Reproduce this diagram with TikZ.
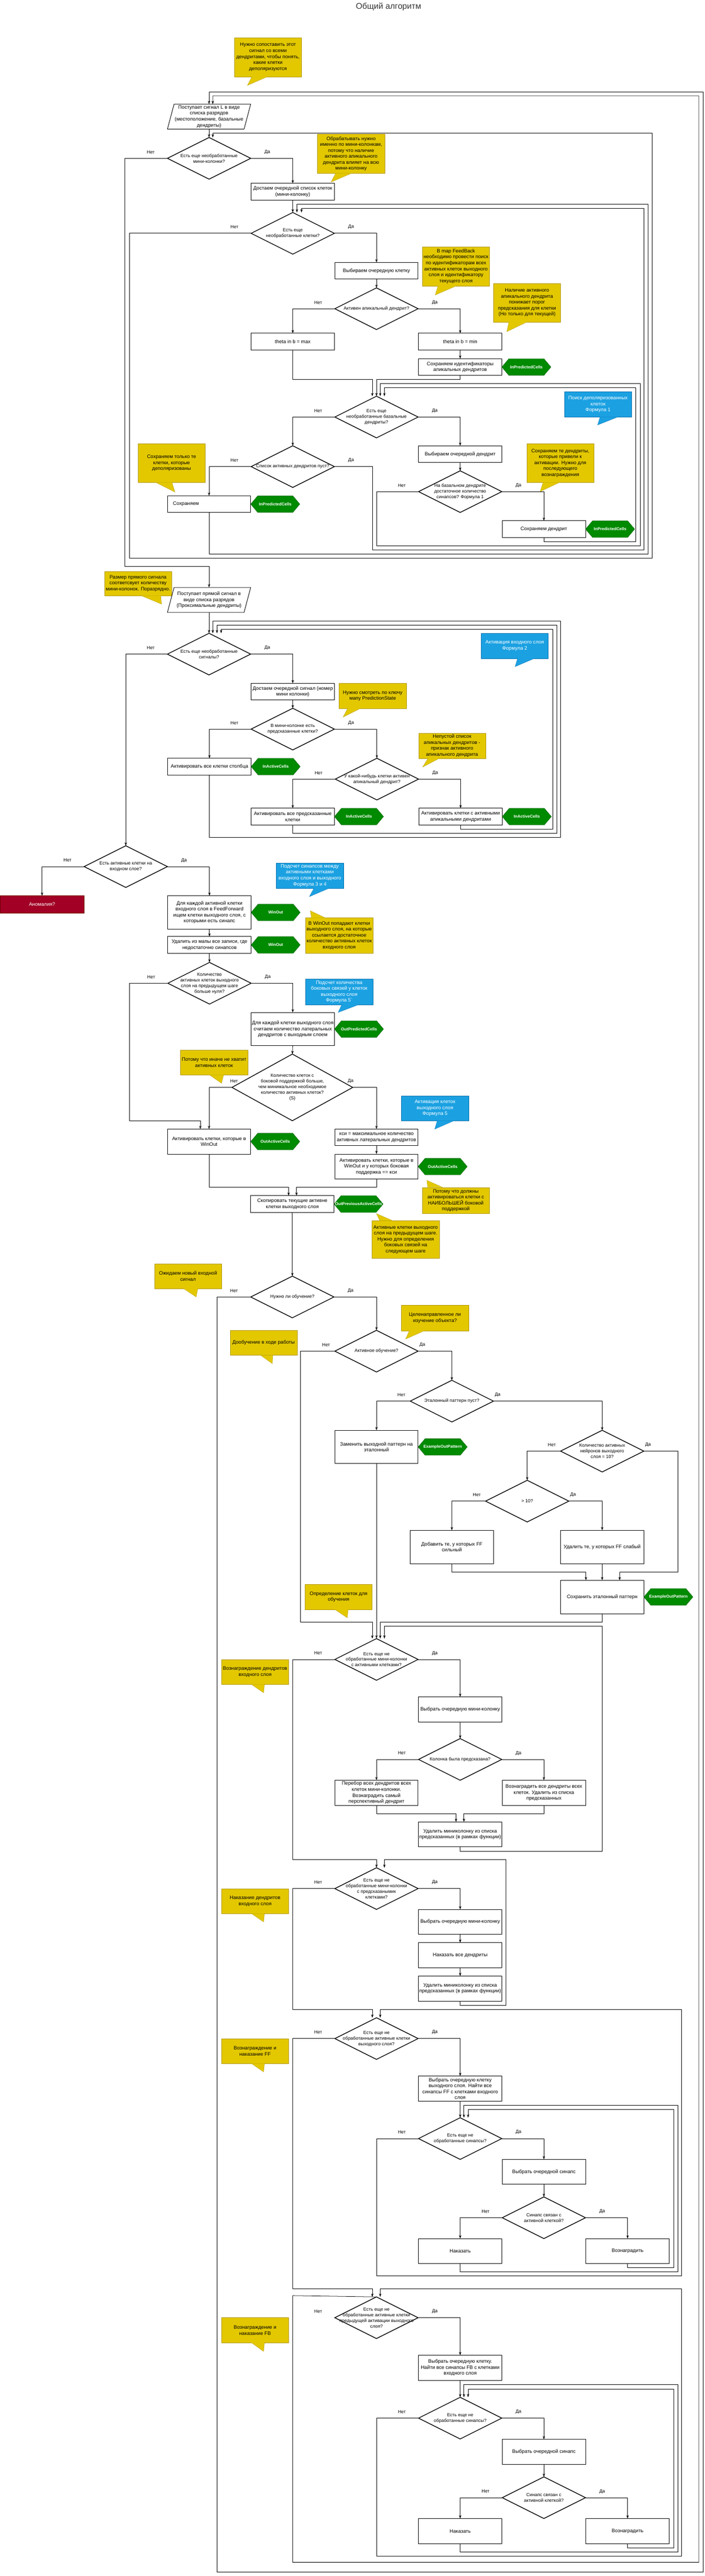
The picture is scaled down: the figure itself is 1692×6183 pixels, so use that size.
\documentclass[tikz,border=0pt]{standalone}
\usepackage{fontspec}
\setmainfont{Liberation Sans}
\usetikzlibrary{shapes.geometric, shapes.symbols, positioning, calc, arrows.meta}
\definecolor{ylwfill}{HTML}{E3C800}
\definecolor{ylwline}{HTML}{B09500}
\definecolor{grnfill}{HTML}{008A00}
\definecolor{grnline}{HTML}{005700}
\definecolor{blufill}{HTML}{1BA1E2}
\definecolor{bluline}{HTML}{006EAF}
\definecolor{redfill}{HTML}{A20025}
\definecolor{redline}{HTML}{6F0000}
\definecolor{ttlgray}{HTML}{333333}
\newcommand\bxfont{\fontsize{10.2}{12.2}\selectfont}
\newcommand\dmfont{\fontsize{9.4}{11.6}\selectfont}
\newcommand\hxfont{\bfseries\fontsize{8.5}{10}\selectfont}
\newcommand\lbfont{\fontsize{9.4}{11}\selectfont}
\newcommand\ttlfont{\fontsize{17}{20}\selectfont}
\begin{document}
\begin{tikzpicture}[
        x=0.3mm, y=-0.3mm,
        every node/.style={outer sep=0pt},
        box/.style={draw, line width=1pt, fill=white, minimum width=60mm, minimum height=#1, inner sep=1pt, align=center, font=\bxfont},
        box/.default=12mm,
        para/.style={minimum width=60mm, minimum height=18mm, inner sep=0pt, align=center, font=\bxfont},
        dia/.style={draw, diamond, line width=1.5pt, minimum width=60mm, minimum height=30mm, inner sep=0pt, label={[dlbl]center:{#1}}},
        dlbl/.style={font=\dmfont, align=center},
        hex/.style={signal, signal to=east and west, signal pointer angle=100, fill=grnfill, draw=grnline, minimum width=35.4mm, minimum height=12mm, inner sep=0pt, label={[hlbl]center:{#1}}},
        hlbl/.style={font=\hxfont, text=white},
        ynote/.style={fill=ylwfill, draw=ylwline, minimum width=48.3mm, minimum height=#1, inner sep=1pt, align=center, font=\bxfont},
        ynote/.default=18mm,
        bnote/.style={ynote=#1, fill=blufill, draw=bluline, text=white},
        bnote/.default=18mm,
        ntail/.style={fill=ylwfill, draw=ylwline},
        btail/.style={fill=blufill, draw=bluline},
        lbl/.style={font=\lbfont},
        arr/.style={draw, line width=0.8pt, -{Stealth[length=2.4mm, width=1.7mm]}},
    ]
    \fill[white] (0,0) rectangle (1692,6183);
    \useasboundingbox (0,0) rectangle (1692,6183);

    \node[font=\ttlfont, text=ttlgray] (title) at (933,16) {Общий алгоритм};

    % feedback signal
    \node[ynote=28.2mm] (n1) at (643.5,137) {Нужно сопоставить этот\\сигнал со всеми\\дендритами, чтобы понять,\\какие клетки\\деполяризуются};
    \filldraw[ntail] (605,184) -- (594,205) -- (642,184);
    \node[para] (p1) at (502,280) {Поступает сигнал L в виде\\списка разрядов\\(местоположение, базальные\\дендриты)};
    \draw[line width=1pt] ($(p1.north west)+(16,0)$) -- (p1.north east) -- ($(p1.south east)+(-16,0)$) -- (p1.south west) -- cycle;
    \node[dia={Есть еще необработанные\\мини-колонки?}] (d1) at (502,380) {};
    \node[ynote=28.2mm] (n2) at (843,369) {Обрабатывать нужно\\именно по мини-колонкам,\\потому что наличие\\активного апикального\\дендрита влияет на всю\\мини-колонку};
    \filldraw[ntail] (806,416) -- (795,437) -- (844,416);
    \node[box] (b1) at (703,460) {Достаем очередной список клеток\\(мини-колонку)};
    \node[dia={Есть еще\\необработанные клетки?}] (d2) at (703,560) {};
    \node[box] (b2) at (904,650) {Выбираем очередную клетку};
    \node[ynote=28.2mm] (n3) at (1095,639) {В map FeedBack\\необходимо провести поиск\\по идентификаторам всех\\активных клеток выходного\\слоя и идентификатору\\текущего слоя};
    \filldraw[ntail] (1052,686) -- (1045,708) -- (1096,686);
    \node[dia={Активен апикальный дендрит?}] (d3) at (904,741) {};
    \node[ynote=27.9mm] (n4) at (1265.5,726.5) {Наличие активного\\апикального дендрита\\понижает порог\\предсказания для клетки\\(Но только для текущей)};
    \filldraw[ntail] (1222,773) -- (1217,796) -- (1265,773);
    \node[box] (b3) at (703,820) {theta in b = max};
    \node[box] (b4) at (1105,820) {theta in b = min};
    \node[box] (b5) at (1105,881) {Сохраняем идентификаторы\\апикальных дендритов};
    \node[hex=InPredictedCells, right=0pt of b5] (h1) {};
    \node[bnote=18.3mm] (bn1) at (1436,970.5) {Поиск деполяризованных\\клеток\\Формула 1};
    \filldraw[btail] (1441,1001) -- (1435,1020) -- (1483,1001);
    \node[dia={Есть еще\\необработанные базальные\\дендриты?}] (d4) at (904,1001) {};
    \node[dia={Список активных дендритов пуст?}] (d5) at (703,1120) {};
    \node[ynote=27.9mm] (n5) at (412,1111.5) {Сохраняем только те\\клетки, которые\\деполяризованы};
    \filldraw[ntail] (374,1158) -- (420,1181) -- (413,1158);
    \node[box, align=left, text width=52mm] (b6) at (502,1210) {Сохраняем};
    \node[hex=InPredictedCells, right=0pt of b6] (h2) {};
    \node[box] (b7) at (1105,1090) {Выбираем очередной дендрит};
    \node[dia={На базальном дендрите\\достаточное количество\\синапсов? Формула 1}] (d6) at (1105,1180) {};
    \node[ynote=27.9mm] (n6) at (1345.5,1111.5) {Сохраняем те дендриты,\\которые привели к\\активации. Нужно для\\последующего\\вознаграждения};
    \filldraw[ntail] (1304,1158) -- (1297,1180) -- (1343,1158);
    \node[box] (b8) at (1306,1270) {Сохраняем дендрит};
    \node[hex=InPredictedCells, right=0pt of b8] (h3) {};

    % feedforward signal
    \node[ynote=17.7mm] (n7) at (331.5,1400.5) {Размер прямого сигнала\\соответсвует количеству\\мини-колонок. Поразрядно.};
    \filldraw[ntail] (340,1430) -- (388,1450) -- (386,1430);
    \node[para] (p2) at (502,1440) {Поступает прямой сигнал в\\виде списка разрядов\\(Проксимальные дендриты)};
    \draw[line width=1pt] ($(p2.north west)+(16,0)$) -- (p2.north east) -- ($(p2.south east)+(-16,0)$) -- (p2.south west) -- cycle;
    \node[bnote] (bn2) at (1236,1550) {Активация входного слоя\\Формула 2};
    \filldraw[btail] (1243,1580) -- (1237,1600) -- (1284,1580);
    \node[dia={Есть еще необработанные\\сигналы?}] (d7) at (502,1570) {};
    \node[box] (b9) at (703,1660) {Достаем очередной сигнал (номер\\мини колонки)};
    \node[ynote] (n8) at (895,1670) {Нужно смотреть по ключу\\мапу PredictionState};
    \filldraw[ntail] (835,1700) -- (824,1721) -- (866,1700);
    \node[dia={В мини-колонке есть\\предсказанные клетки?}] (d8) at (703,1750) {};
    \node[box] (b10) at (503,1840) {Активировать все клетки столбца};
    \node[hex=InActiveCells, right=0pt of b10] (h4) {};
    \node[dia={У какой-нибудь клетки активен\\апикальный дендрит?}] (d9) at (905,1870) {};
    \node[ynote] (n9) at (1085.5,1790) {Непустой список\\апикальных дендритов -\\признак активного\\апикального дендрита};
    \filldraw[ntail] (1028,1820) -- (1015,1841) -- (1055,1820);
    \node[box] (b11) at (703,1960) {Активировать все предсказанные\\клетки};
    \node[hex=InActiveCells, right=0pt of b11] (h5) {};
    \node[box] (b12) at (1106,1960) {Активировать клетки с активными\\апикальными дендритами};
    \node[hex=InActiveCells, right=0pt of b12] (h6) {};

    % output layer
    \node[dia={Есть активные клетки на\\входном слое?}] (d10) at (302,2080) {};
    \node[draw=redline, fill=redfill, text=white, font=\bxfont, minimum width=60.6mm, minimum height=12.3mm] (r1) at (101,2170.5) {Аномалия?};
    \node[bnote=18.3mm] (bn3) at (744,2101.5) {Подсчет синапсов между\\активными клетками\\входного слоя и выходного\\Формула 3 и 4};
    \filldraw[btail] (754,2132) -- (743,2152) -- (790,2132);
    \node[box=24mm] (b13) at (503,2190) {Для каждой активной клетки\\входного слоя в FeedForward\\ищем клетки выходного слоя, с\\которыми есть синапс};
    \node[hex=WinOut, right=0pt of b13] (h7) {};
    \node[ynote=25.5mm] (n10) at (814.5,2245.5) {В WinOut попадают клетки\\выходного слоя, на которые\\ссылается достаточное\\количество активных клеток\\входного слоя};
    \filldraw[ntail] (748,2203) -- (745,2186) -- (781,2203);
    \node[box] (b14) at (503,2268) {Удалить из мапы все записи, где\\недостаточно синапсов};
    \node[hex=WinOut, right=0pt of b14] (h8) {};
    \node[dia={Количество\\активных клеток выходного\\слоя на предыдущем шаге\\больше нуля?}] (d11) at (503,2360) {};
    \node[bnote=18.3mm] (bn4) at (814.5,2380.5) {Подсчет количества\\боковых связей у клеток\\выходного слоя\\Формула 5\textasciigrave};
    \filldraw[btail] (821,2411) -- (812,2430) -- (862,2411);
    \node[box=24mm] (b15) at (703,2470) {Для каждой клетки выходного слоя\\считаем количество латеральных\\дендритов с выходным слоем};
    \node[hex=OutPredictedCells, right=0pt of b15] (h9) {};
    \node[ynote] (n11) at (514,2550) {Потому что иначе не хватит\\активных клеток};
    \filldraw[ntail] (503,2580) -- (532,2600) -- (537,2580);
    \node[dia={Количество клеток с\\боковой поддержкой больше,\\чем минимальное необходимое\\количество активных клеток?\\(S)}, minimum width=87mm, minimum height=48mm] (d12) at (702,2610) {};
    \node[box=18mm] (b16) at (502,2740) {Активировать клетки, которые в\\WinOut};
    \node[hex=OutActiveCells, right=0pt of b16] (h10) {};
    \node[box] (b17) at (904,2730) {кси = максимальное количество\\активных латеральных дендритов};
    \node[bnote] (bn5) at (1044.5,2660) {Активация клеток\\выходного слоя\\Формула 5};
    \filldraw[btail] (1050,2690) -- (1044,2710) -- (1090,2690);
    \node[box=18mm] (b18) at (904,2800) {Активировать клетки, которые в\\WinOut и у которых боковая\\поддержка == кси};
    \node[hex=OutActiveCells, right=0pt of b18] (h11) {};
    \node[ynote=18.9mm] (n12) at (1094.5,2881.5) {Потому что должны\\активироваться клетки с\\НАИБОЛЬШЕЙ боковой\\поддержкой};
    \filldraw[ntail] (1027,2850) -- (1025,2833) -- (1063,2850);
    \node[box] (b19) at (702,2890) {Скопировать текущие активне\\клетки выходного слоя};
    \node[hex=OutPreviousActiveCells, right=0pt of b19] (h12) {};
    \node[ynote=27mm] (n13) at (974,2975) {Активные клетки выходного\\слоя на предыдущем шаге.\\Нужно для определения\\боковых связей на\\следующем шаге};
    \filldraw[ntail] (912,2930) -- (904,2913) -- (943,2930);

    % learning
    \node[ynote] (n14) at (451.5,3063) {Ожидаем новый входной\\сигнал};
    \filldraw[ntail] (441,3093) -- (471,3113) -- (475,3093);
    \node[dia={Нужно ли обучение?}] (d13) at (702,3113) {};
    \node[ynote=18.3mm] (n15) at (1044.5,3163.5) {Целенаправленное ли\\изучение объекта?};
    \filldraw[ntail] (983,3194) -- (974,3214) -- (1019,3194);
    \node[ynote] (n16) at (633,3223) {Дообучение в ходе работы};
    \filldraw[ntail] (626,3253) -- (654,3273) -- (655,3253);
    \node[dia={Активное обучение?}] (d14) at (904,3243) {};
    \node[dia={Эталонный паттерн пуст?}] (d15) at (1085,3363) {};
    \node[box=24mm] (b20) at (904,3473) {Заменить выходной паттерн на\\эталонный};
    \node[hex=ExampleOutPattern, right=0pt of b20] (h13) {};
    \node[dia={Количество активных\\нейронов выходного\\слоя = 10?}] (d16) at (1446,3483) {};
    \node[dia={> 10?}] (d17) at (1266,3603) {};
    \node[box=24mm] (b21) at (1085,3713) {Добавить те, у которых FF\\сильный};
    \node[box=24mm] (b22) at (1446,3713) {Удалить те, у которых FF слабый};
    \node[box=24mm] (b23) at (1446,3833) {Сохранить эталонный паттерн};
    \node[hex=ExampleOutPattern, right=0pt of b23] (h14) {};
    \node[ynote] (n17) at (813,3833) {Определение клеток для\\обучения};
    \filldraw[ntail] (804,3863) -- (834,3883) -- (836,3863);

    % reward input dendrites
    \node[dia={Есть еще не\\обработанные мини-колонки\\с активными клетками?}] (d18) at (904,3983) {};
    \node[ynote] (n18) at (612.5,4013) {Вознаграждение дендритов\\входного слоя};
    \filldraw[ntail] (604,4043) -- (633,4063) -- (635,4043);
    \node[box=18mm] (b24) at (1105,4103) {Выбрать очередную мини-колонку};
    \node[dia={Колонка была предсказана?}] (d19) at (1105,4223) {};
    \node[box=18mm] (b25) at (904,4303) {Перебор всех дендритов всех\\клеток мини-колонки.\\Вознаградить самый\\перспективный дендрит};
    \node[box=18mm] (b26) at (1306,4303) {Вознаградить все дендриты всех\\клеток. Удалить из списка\\предсказанных};
    \node[box=18mm] (b27) at (1105,4403) {Удалить миниколонку из списка\\предсказанных (в рамках функции)};

    % punish input dendrites
    \node[dia={Есть еще не\\обработанные мини-колонки\\с предсказанымик\\клетками?}] (d20) at (904,4533) {};
    \node[ynote] (n19) at (612.5,4563) {Наказание дендритов\\входного слоя};
    \filldraw[ntail] (604,4593) -- (633,4613) -- (635,4593);
    \node[box=18mm] (b28) at (1105,4613) {Выбрать очередную мини-колонку};
    \node[box=18mm] (b29) at (1105,4693) {Наказать все дендриты};
    \node[box=18mm] (b30) at (1105,4773) {Удалить миниколонку из списка\\предсказанных (в рамках функции)};

    % FF
    \node[dia={Есть еще не\\обработанные активные клетки\\выходного слоя?}] (d21) at (904,4893) {};
    \node[ynote] (n20) at (612.5,4923) {Вознаграждение и\\наказание FF};
    \filldraw[ntail] (604,4953) -- (633,4973) -- (635,4953);
    \node[box=18mm] (b31) at (1105,5013) {Выбрать очередную клетку\\выходного слоя. Найти все\\синапсы FF с клетками входного\\слоя};
    \node[dia={Есть еще не\\обработанные синапсы?}] (d22) at (1105,5133) {};
    \node[box=18mm] (b32) at (1306,5213) {Выбрать очередной синапс};
    \node[dia={Синапс связан с\\активной клеткой?}] (d23) at (1306,5323) {};
    \node[box=18mm] (b33) at (1105,5403) {Наказать};
    \node[box=18mm] (b34) at (1507,5403) {Вознаградить};

    % FB
    \node[dia={Есть еще не\\обработанные активные клетки\\предыдущей активации выходного\\слоя?}] (d24) at (904,5563) {};
    \node[ynote] (n21) at (612.5,5593) {Вознаграждение и\\наказание FB};
    \filldraw[ntail] (604,5623) -- (633,5644) -- (635,5623);
    \node[box=18mm] (b35) at (1105,5683) {Выбрать очередную клетку.\\Найти все синапсы FB с клетками\\входного слоя};
    \node[dia={Есть еще не\\обработанные синапсы?}] (d25) at (1105,5804) {};
    \node[box=18mm] (b36) at (1306,5885) {Выбрать очередной синапс};
    \node[dia={Синапс связан с\\активной клеткой?}] (d26) at (1306,5995) {};
    \node[box=18mm] (b37) at (1105,6075) {Наказать};
    \node[box=18mm] (b38) at (1507,6075) {Вознаградить};

    % yes / no
    \node[lbl] (d1n) at ($(d1.west)+(-40,-15)$) {Нет};
    \node[lbl] (d1y) at ($(d1.east)+(40,-15)$) {Да};
    \node[lbl] (d2n) at ($(d2.west)+(-40,-15)$) {Нет};
    \node[lbl] (d2y) at ($(d2.east)+(40,-15)$) {Да};
    \node[lbl] (d3n) at ($(d3.west)+(-40,-15)$) {Нет};
    \node[lbl] (d3y) at ($(d3.east)+(40,-15)$) {Да};
    \node[lbl] (d4n) at ($(d4.west)+(-40,-15)$) {Нет};
    \node[lbl] (d4y) at ($(d4.east)+(40,-15)$) {Да};
    \node[lbl] (d5n) at ($(d5.west)+(-40,-15)$) {Нет};
    \node[lbl] (d5y) at ($(d5.east)+(40,-15)$) {Да};
    \node[lbl] (d6n) at ($(d6.west)+(-40,-15)$) {Нет};
    \node[lbl] (d6y) at ($(d6.east)+(40,-15)$) {Да};
    \node[lbl] (d7n) at ($(d7.west)+(-40,-15)$) {Нет};
    \node[lbl] (d7y) at ($(d7.east)+(40,-15)$) {Да};
    \node[lbl] (d8n) at ($(d8.west)+(-40,-15)$) {Нет};
    \node[lbl] (d8y) at ($(d8.east)+(40,-15)$) {Да};
    \node[lbl] (d9n) at ($(d9.west)+(-40,-15)$) {Нет};
    \node[lbl] (d9y) at ($(d9.east)+(40,-15)$) {Да};
    \node[lbl] (d10n) at ($(d10.west)+(-40,-15)$) {Нет};
    \node[lbl] (d10y) at ($(d10.east)+(40,-15)$) {Да};
    \node[lbl] (d11n) at ($(d11.west)+(-40,-15)$) {Нет};
    \node[lbl] (d11y) at ($(d11.east)+(40,-15)$) {Да};
    \node[lbl] (d12n) at ($(d12.west)+(5,-15)$) {Нет};
    \node[lbl] (d12y) at ($(d12.east)+(-5,-15)$) {Да};
    \node[lbl] (d13n) at ($(d13.west)+(-40,-15)$) {Нет};
    \node[lbl] (d13y) at ($(d13.east)+(40,-15)$) {Да};
    \node[lbl] (d14n) at ($(d14.west)+(-21,-15)$) {Нет};
    \node[lbl] (d14y) at ($(d14.east)+(10,-15)$) {Да};
    \node[lbl] (d15n) at ($(d15.west)+(-21,-15)$) {Нет};
    \node[lbl] (d15y) at ($(d15.east)+(10,-15)$) {Да};
    \node[lbl] (d16n) at ($(d16.west)+(-21,-15)$) {Нет};
    \node[lbl] (d16y) at ($(d16.east)+(10,-15)$) {Да};
    \node[lbl] (d17n) at ($(d17.west)+(-21,-15)$) {Нет};
    \node[lbl] (d17y) at ($(d17.east)+(10,-15)$) {Да};
    \node[lbl] (d18n) at ($(d18.west)+(-40,-15)$) {Нет};
    \node[lbl] (d18y) at ($(d18.east)+(40,-15)$) {Да};
    \node[lbl] (d19n) at ($(d19.west)+(-40,-15)$) {Нет};
    \node[lbl] (d19y) at ($(d19.east)+(40,-15)$) {Да};
    \node[lbl] (d20n) at ($(d20.west)+(-40,-15)$) {Нет};
    \node[lbl] (d20y) at ($(d20.east)+(40,-15)$) {Да};
    \node[lbl] (d21n) at ($(d21.west)+(-40,-15)$) {Нет};
    \node[lbl] (d21y) at ($(d21.east)+(40,-15)$) {Да};
    \node[lbl] (d22n) at ($(d22.west)+(-40,-15)$) {Нет};
    \node[lbl] (d22y) at ($(d22.east)+(40,-15)$) {Да};
    \node[lbl] (d23n) at ($(d23.west)+(-40,-15)$) {Нет};
    \node[lbl] (d23y) at ($(d23.east)+(40,-15)$) {Да};
    \node[lbl] (d24n) at ($(d24.west)+(-40,-15)$) {Нет};
    \node[lbl] (d24y) at ($(d24.east)+(40,-15)$) {Да};
    \node[lbl] (d25n) at ($(d25.west)+(-40,-15)$) {Нет};
    \node[lbl] (d25y) at ($(d25.east)+(40,-15)$) {Да};
    \node[lbl] (d26n) at ($(d26.west)+(-40,-15)$) {Нет};
    \node[lbl] (d26y) at ($(d26.east)+(40,-15)$) {Да};

    % connectors
    \draw[arr] (p1.south) -- (d1.north);
    \draw[arr] (d1.east) -| (b1.north);
    \draw[arr] (d1.west) -| (300,1360) -| (p2.north);
    \draw[arr] (b1.south) -- (d2.north);
    \draw[arr] (d2.west) -| (311,1340) -| (1566,320) -| ($(d1.north)+(9,0)$);
    \draw[arr] (d2.east) -| (b2.north);
    \draw[arr] (b2.south) -- (d3.north);
    \draw[arr] (d3.west) -| (b3.north);
    \draw[arr] (d3.east) -| (b4.north);
    \draw[arr] (b4.south) -- (b5.north);
    \draw[arr] (b3.south) |- (894,910) -- ($(d4.north)+(-10,0)$);
    \draw[arr] (b5.south) |- (904,910) -- (d4.north);
    \draw[arr] (d4.west) -| (d5.north);
    \draw[arr] (d4.east) -| (b7.north);
    \draw[arr] (b7.south) -- (d6.north);
    \draw[arr] (d6.east) -| (b8.north);
    \draw[arr] (d6.west) -| (904,1310) -| (1537,920) -| ($(d4.north)+(9,0)$);
    \draw[arr] (b8.south) |- (1527,1300) -- (1527,930) -| ($(d4.north)+(19,0)$);
    \draw[arr] (d5.west) -| (b6.north);
    \draw[arr] (d5.east) -| (894,1320) -| (1546,500) -| ($(d2.north)+(21,0)$);
    \draw[arr] (b6.south) |- (1556,1330) -- (1556,490) -| ($(d2.north)+(10,0)$);

    \draw[arr] (p2.south) -- (d7.north);
    \draw[arr] (d7.west) -| (d10.north);
    \draw[arr] (d7.east) -| (b9.north);
    \draw[arr] (b9.south) -- (d8.north);
    \draw[arr] (d8.west) -| (b10.north);
    \draw[arr] (d8.east) -| (d9.north);
    \draw[arr] (d9.west) -| (b11.north);
    \draw[arr] (d9.east) -| (b12.north);
    \draw[arr] (b12.south) |- (1327,1990) -- (1327,1510) -| ($(d7.north)+(29,0)$);
    \draw[arr] (b11.south) |- (1337,2000) -- (1337,1500) -| ($(d7.north)+(19,0)$);
    \draw[arr] (b10.south) |- (1346,2010) -- (1346,1490) -| ($(d7.north)+(9,0)$);

    \draw[arr] (d10.west) -| (r1.north);
    \draw[arr] (d10.east) -| (b13.north);
    \draw[arr] (b13.south) -- (b14.north);
    \draw[arr] (b14.south) -- (d11.north);
    \draw[arr] (d11.west) -| (311,2690) -| ($(b16.north)+(-21,0)$);
    \draw[arr] (d11.east) -| (b15.north);
    \draw[arr] (b15.south) -- (d12.north);
    \draw[arr] (d12.west) -| (b16.north);
    \draw[arr] (d12.east) -| (b17.north);
    \draw[arr] (b17.south) -- (b18.north);
    \draw[arr] (b16.south) |- (693,2850) -- ($(b19.north)+(-9,0)$);
    \draw[arr] (b18.south) |- (712,2850) -- ($(b19.north)+(10,0)$);
    \draw[arr] (b19.south) -- (d13.north);

    \draw[arr] (d13.west) -| (521,6174) -| (1688,220) -| (p1.north);
    \draw[arr] (d13.east) -| (d14.north);
    \draw[arr] (d14.west) -| (722,3893) -| ($(d18.north)+(-10,0)$);
    \draw[arr] (d14.east) -| (d15.north);
    \draw[arr] (d15.west) -| (b20.north);
    \draw[arr] (d15.east) -| (d16.north);
    \draw[arr] (b20.south) -- (d18.north);
    \draw[arr] (d16.west) -| (d17.north);
    \draw[arr] (d16.east) -| (1628,3773) -| ($(b23.north)+(42,0)$);
    \draw[arr] (d17.west) -| (b21.north);
    \draw[arr] (d17.east) -| (b22.north);
    \draw[arr] (b21.south) |- (1407,3773) -- ($(b23.north)+(-39,0)$);
    \draw[arr] (b22.south) -- (b23.north);
    \draw[arr] (b23.south) |- (913,3893) -- ($(d18.north)+(9,0)$);

    \draw[arr] (d18.east) -| (b24.north);
    \draw[arr] (d18.west) -| (703,4463) -| (d20.north);
    \draw[arr] (b24.south) -- (d19.north);
    \draw[arr] (d19.west) -| (b25.north);
    \draw[arr] (d19.east) -| (b26.north);
    \draw[arr] (b25.south) |- (1095,4353) -- ($(b27.north)+(-10,0)$);
    \draw[arr] (b26.south) |- (1114,4353) -- ($(b27.north)+(9,0)$);
    \draw[arr] (b27.south) |- (1446,4443) -- (1446,3903) -| ($(d18.north)+(19,0)$);

    \draw[arr] (d20.east) -| (b28.north);
    \draw[arr] (d20.west) -| (703,4823) -| ($(d21.north)+(-10,0)$);
    \draw[arr] (b28.south) -- (b29.north);
    \draw[arr] (b29.south) -- (b30.north);
    \draw[arr] (b30.south) |- (1215,4813) -- (1215,4463) -| ($(d20.north)+(19,0)$);

    \draw[arr] (d21.east) -| (b31.north);
    \draw[arr] (d21.west) -| (703,5493) -| ($(d24.north)+(-10,0)$);
    \draw[arr] (b31.south) -- (d22.north);
    \draw[arr] (d22.east) -| (b32.north);
    \draw[arr] (d22.west) -| (904,5463) -| (1637,4823) -| ($(d21.north)+(9,0)$);
    \draw[arr] (b32.south) -- (d23.north);
    \draw[arr] (d23.west) -| (b33.north);
    \draw[arr] (d23.east) -| (b34.north);
    \draw[arr] (b33.south) |- (1628,5453) -- (1628,5053) -| ($(d22.north)+(9,0)$);
    \draw[arr] (b34.south) |- (1618,5443) -- (1618,5063) -| ($(d22.north)+(19,0)$);

    \draw[arr] (d24.north) -- (703,5510) -- (703,6150) -| (1678,230) -| ($(p1.north)+(9,0)$);
    \draw[arr] (d24.east) -| (b35.north);
    \draw[arr] (b35.south) -- (d25.north);
    \draw[arr] (d25.east) -| (b36.north);
    \draw[arr] (d25.west) -| (904,6135) -| (1637,5493) -| ($(d24.north)+(9,0)$);
    \draw[arr] (b36.south) -- (d26.north);
    \draw[arr] (d26.west) -| (b37.north);
    \draw[arr] (d26.east) -| (b38.north);
    \draw[arr] (b37.south) |- (1628,6125) -- (1628,5723) -| ($(d25.north)+(9,0)$);
    \draw[arr] (b38.south) |- (1618,6115) -- (1618,5734) -| ($(d25.north)+(19,0)$);
\end{tikzpicture}
\end{document}
